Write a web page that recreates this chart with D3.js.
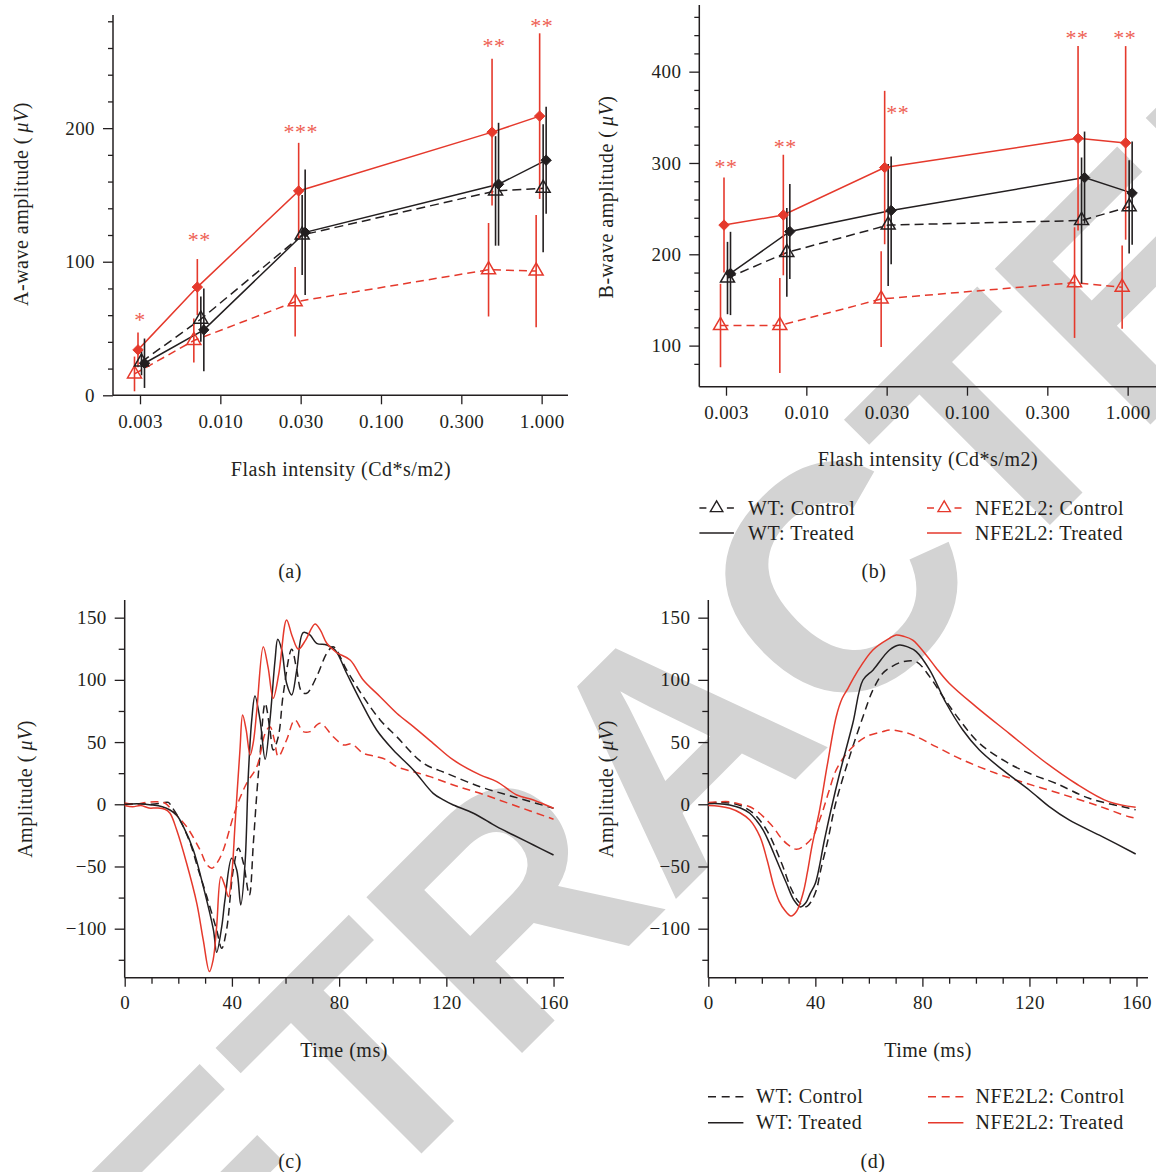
<!DOCTYPE html>
<html>
<head>
<meta charset="utf-8">
<script src="https://cdn.jsdelivr.net/npm/d3@7"></script>
<style>
  html, body { margin: 0; padding: 0; background: #fff; }
  svg { display: block; }
  text { font-family: "Liberation Serif", "Times New Roman", serif; }
</style>
</head>
<body>
<svg id="fig" width="1156" height="1172"></svg>
<script>
// ---------------- data ----------------
const intensityTicks = [0.003, 0.01, 0.03, 0.1, 0.3, 1.0];
const intensityTickLabels = ["0.003", "0.010", "0.030", "0.100", "0.300", "1.000"];
const intensities = [0.003, 0.0073, 0.03, 0.49, 1.0];
const seriesNames = ["WT: Control", "WT: Treated", "NFE2L2: Control", "NFE2L2: Treated"];

// A-wave amplitude (µV), mean and SEM per intensity
const aWtControl     = [25, 57, 120, 153, 155];
const aWtControlErr  = [10, 17, 30, 41, 48];
const aWtTreated     = [24, 49, 122, 158, 176];
const aWtTreatedErr  = [18.5, 31, 47, 46, 40];
const aNfControl     = [16, 41, 70, 94, 93];
const aNfControlErr  = [13, 16.5, 26, 35, 42];
const aNfTreated     = [34, 81, 153, 197, 209];
const aNfTreatedErr  = [13, 21, 36, 55, 62];
const aStars         = ["*", "**", "***", "**", "**"];

// B-wave amplitude (µV), mean and SEM per intensity
const bWtControl     = [174, 202, 232, 237, 252];
const bWtControlErr  = [39.6, 48.6, 66.8, 69, 51];
const bWtTreated     = [179, 225, 248, 284, 267];
const bWtTreatedErr  = [45.6, 52, 59, 50.4, 56.6];
const bNfControl     = [122, 122, 151, 169, 164];
const bNfControlErr  = [45.7, 52, 52.4, 60.6, 45.6];
const bNfTreated     = [232, 243, 295, 327, 322];
const bNfTreatedErr  = [52, 66, 84, 101, 106];
const bStars         = ["**", "**", "**", "**", "**"];

// Averaged ERG traces [time ms, amplitude µV]
const cWtControl = [[0,0],[5,0.5],[10,0],[14,1],[16.3,1.5],[17.5,-1.9],[20.6,-12.6],[24.4,-31],[27.5,-52.8],[30.6,-74],[34.3,-101],[36.2,-115.8],[38,-101],[40.5,-52.8],[42.4,-35.4],[44.3,-47.4],[46.5,-73],[48,-31.3],[49.3,8.8],[50.5,40],[52.4,81.2],[54.2,59.7],[55.4,43.6],[57.3,54.3],[59.2,89.2],[62.3,124.6],[64.2,108],[66,90.5],[67.9,89.2],[71.6,102.6],[75.4,121.4],[77.8,126.7],[82.8,108],[89,86.5],[95.3,67.8],[101.5,54.3],[111.4,33],[120.1,24.9],[132.6,14.1],[145,6.1],[160,-3.2]];
const cWtTreated = [[0,0],[5,0.5],[10,-0.5],[14,-2],[16.9,-4.6],[19.5,-9],[21.9,-18],[25.6,-36.7],[29.3,-66],[33.1,-101],[34.3,-119],[36.2,-98.4],[37.4,-76.9],[39.9,-43.4],[41.8,-52.8],[43.3,-80.9],[44.9,-47.4],[46.1,22.2],[47.4,67.8],[48.6,87],[50.5,67.8],[52.4,36.2],[54.2,67.8],[56.1,116],[57.1,132.6],[58.6,124],[60.4,97.3],[62.3,87.9],[64.2,108],[66.6,138],[69.1,136.1],[71.6,129.4],[75.4,128],[78.5,124],[82.8,105.3],[87.8,83.8],[94,59.7],[100.2,43.6],[107.7,27.6],[115.1,8.8],[118.9,3.5],[122.6,-0.6],[130.1,-7.2],[138.8,-18],[145,-24.7],[152.5,-32.7],[160,-40.8]];
const cNfControl = [[0,1],[4,0],[8,1.5],[12,2],[15,1],[18.1,-6],[23.1,-18],[28.1,-36.7],[30.5,-48],[32.5,-51.4],[34.5,-47],[36.8,-36.7],[40.5,-10],[43,5],[45.5,16.9],[49.3,30.2],[52.4,57],[54.2,62.4],[55.8,52],[57.3,38.3],[60.4,51.7],[63.5,67.8],[66.6,58.4],[69.1,58.4],[72.9,65.1],[77.8,54.3],[81.6,47.7],[84.7,48.5],[89,41],[94,38.3],[97.8,35.6],[101.5,30.2],[107.7,26.2],[113.9,22.2],[122.6,15.5],[132.6,8.8],[145,-0.6],[160,-12]];
const cNfTreated = [[0,-1],[3,-2],[6,-1],[9,-3],[12,-3],[15,-4],[16.9,-7.2],[19.4,-20.7],[23.1,-47.4],[26.9,-79.6],[29.3,-109],[31.6,-134.5],[33,-125],[34.3,-98.4],[35.9,-58.2],[37.3,-65],[38.7,-74.3],[40,-55],[41.2,-15.3],[43,43.6],[44,71.8],[45.3,60],[46.8,39.6],[48,50],[49.3,75.8],[51.7,126.7],[53.5,110],[55.4,85.2],[57.5,105],[60.4,148.2],[62.5,135],[64.8,124.6],[67.5,132],[71,145],[73,140],[75.4,129.4],[79,122],[84.1,116],[89,99.9],[95.3,86.5],[101.5,73.2],[107.7,62.4],[115.1,49],[122.6,35.6],[132.6,23.6],[138.8,18.2],[146.3,7.5],[152.5,3.5],[160,-3.2]];

const dWtControl = [[0,1],[4,1.5],[8,1],[12,-1],[16.8,-7.2],[21.8,-20.7],[27.4,-47.4],[31,-68],[34,-79],[36.6,-82.3],[38.5,-78],[40.5,-68],[42,-52.8],[44.7,-28.7],[47.5,0],[52.8,38.3],[57.8,70.4],[61.5,91.9],[65.2,105.3],[68,110],[72.7,114.6],[77.7,114.6],[82.7,102.6],[87.7,86.5],[93.9,67.8],[101.3,49],[111.2,34.2],[119.9,24.9],[129.8,16.9],[142.3,4.8],[157.2,-3.2],[159.7,-4.5]];
const dWtTreated = [[0,0.5],[4,0.5],[8,-0.6],[12,-3],[15.5,-7.2],[18,-13],[20.5,-20.7],[23,-32],[25.5,-44.8],[29.2,-63.5],[32,-77],[34.5,-82.5],[36.5,-79],[38,-72],[40,-63.5],[43.4,-28.7],[46,-3],[49.1,24.9],[54,65.1],[57.8,99.9],[61.6,108],[67.7,124],[71.4,128],[74.5,126.5],[77.7,122.7],[82.7,108],[88.9,81.2],[95.1,59.7],[101.3,43.6],[110,27.6],[119.9,11.5],[127.4,-1.9],[134.8,-12.6],[147.2,-26],[159.7,-40]];
const dNfControl = [[0,1.4],[4,2],[8,2],[12,0],[15.5,-2],[18.5,-6],[21.8,-12.6],[24.5,-19],[26.8,-26],[29.5,-32],[32.9,-36.2],[36,-33],[39.1,-26],[41,-16],[42.9,-4.6],[45,10],[47.8,27.6],[52.8,43.6],[59,54.3],[65.2,58.4],[67.7,59.7],[72,58.5],[76.4,55.7],[85.1,46.3],[95.1,35.6],[107.5,24.9],[118.7,16.9],[131.1,8.8],[144.8,-0.6],[157.2,-10],[159.7,-11]];
const dNfTreated = [[0,-1],[4,-1.5],[8,-3.2],[12,-7],[15.5,-12.6],[19.3,-26],[22,-45],[24.5,-66],[26.5,-78],[28.5,-85],[30.9,-89.8],[33,-86],[35.4,-71.5],[37,-55],[38.7,-34],[41.6,-4.6],[44.5,32],[47.8,70.4],[50,85],[52.2,93.2],[55.3,105.3],[61.5,124],[67.7,133.4],[70.2,136.1],[73,135],[76.4,132],[81.4,120],[85,110],[90,97.3],[100,78.5],[112.4,57],[124.8,35.6],[137.2,16.9],[149.6,2.1],[159.7,-2.4]];

const timeTicks = [0, 40, 80, 120, 160];
const ampTicks = [-100, -50, 0, 50, 100, 150];

// ---------------- styling ----------------
const INK = "#231f20", RED = "#e5392c", STAR = "#ee5e52", WM = "#d3d3d3";
const TICK_FS = 19, TITLE_FS = 20;
const svg = d3.select("#fig");

// retraction stamp behind the figure
svg.append("text")
  .attr("transform", "translate(752,823) rotate(-45)")
  .attr("text-anchor", "middle")
  .style("font-family", "'Liberation Sans', Arial, sans-serif")
  .style("font-weight", "bold")
  .style("font-size", "320px")
  .attr("fill", WM)
  .text("RETRACTED");

function styleAxis(sel) {
  sel.select(".domain").remove();
  sel.attr("font-family", null).attr("font-size", null);
  sel.selectAll("line").attr("stroke", INK).attr("stroke-width", 1.3);
  sel.selectAll("text").attr("fill", INK).style("font-size", TICK_FS + "px").style("letter-spacing", "0.4px");
}

function frame(g, x0, x1, y0, y1) {
  g.append("line").attr("x1", x0).attr("x2", x0).attr("y1", y0).attr("y2", y1)
    .attr("stroke", INK).attr("stroke-width", 1.5);
  g.append("line").attr("x1", x0).attr("x2", x1).attr("y1", y1).attr("y2", y1)
    .attr("stroke", INK).attr("stroke-width", 1.5);
}

function yTitle(g, x, y, label) {
  g.append("text").attr("transform", `translate(${x},${y}) rotate(-90)`)
    .attr("text-anchor", "middle").attr("fill", INK)
    .style("font-size", TITLE_FS + "px").style("letter-spacing", "0.5px")
    .call(t => {
      t.append("tspan").text(label + " (\u2009");
      t.append("tspan").style("font-style", "italic").text("\u03bcV");
      t.append("tspan").text(")");
    });
}

function plainText(g, x, y, s, size) {
  g.append("text").attr("x", x).attr("y", y).attr("text-anchor", "middle").attr("fill", INK)
    .style("font-size", (size || TITLE_FS) + "px").style("letter-spacing", "0.5px").text(s);
}

const triPath = s => { const h = s * Math.sqrt(3) / 2; return `M0,${-h * 2 / 3}L${s / 2},${h / 3}L${-s / 2},${h / 3}Z`; };
const diaPath = r => `M0,${-r}L${r},0L0,${r}L${-r},0Z`;

// ---------------- intensity–response panels ----------------
function intensityPanel(cfg) {
  const g = svg.append("g");
  const { x, y, x0, x1, top, bottom } = cfg;
  frame(g, x0, x1, top, bottom);

  const minor = d3.range(cfg.minorFrom, cfg.yMax + 1, 20).filter(v => v % 100 !== 0);
  const major = d3.range(100, cfg.yMax + 1, 100).concat(cfg.zeroTick ? [0] : []);
  g.append("g").attr("transform", `translate(${x0},0)`)
    .call(d3.axisLeft(y).tickValues(minor).tickSize(5).tickFormat("")).call(styleAxis);
  g.append("g").attr("transform", `translate(${x0},0)`)
    .call(d3.axisLeft(y).tickValues(major).tickSize(10).tickPadding(8).tickFormat(d3.format("d"))).call(styleAxis);
  g.append("g").attr("transform", `translate(0,${bottom})`)
    .call(d3.axisBottom(x).tickValues(intensityTicks).tickSize(9).tickPadding(cfg.xPad)
      .tickFormat((d, i) => intensityTickLabels[i])).call(styleAxis);

  const series = cfg.series;
  const line = s => d3.line().x((d, i) => x(intensities[i]) + s.dx).y(d => y(d));
  [0, 2, 1, 3].forEach(k => {
    const s = series[k];
    g.append("path").datum(s.mean).attr("d", line(s)).attr("fill", "none")
      .attr("stroke", s.color).attr("stroke-width", 1.5).attr("stroke-dasharray", s.dash);
  });
  [2, 3, 0, 1].forEach(k => {
    const s = series[k];
    g.selectAll(null).data(s.mean).join("line")
      .attr("x1", (d, i) => x(intensities[i]) + s.dx).attr("x2", (d, i) => x(intensities[i]) + s.dx)
      .attr("y1", (d, i) => y(d - s.err[i])).attr("y2", (d, i) => y(d + s.err[i]))
      .attr("stroke", s.color).attr("stroke-width", 1.6);
  });
  [2, 0, 1, 3].forEach(k => {
    const s = series[k];
    g.selectAll(null).data(s.mean).join("path")
      .attr("transform", (d, i) => `translate(${x(intensities[i]) + s.dx},${y(d)})`)
      .attr("d", s.marker === "tri" ? triPath(14) : diaPath(5.2))
      .attr("fill", s.marker === "tri" ? "none" : s.color)
      .attr("stroke", s.color).attr("stroke-width", s.marker === "tri" ? 1.5 : 1);
  });

  // significance marks above the treated NFE2L2 error bars
  const nf = series[3];
  g.selectAll(null).data(cfg.stars).join("text")
    .attr("x", (d, i) => x(intensities[i]) + cfg.starNudge[i][0])
    .attr("y", (d, i) => y(nf.mean[i] + nf.err[i]) - 15 + cfg.starNudge[i][1] + 11)
    .attr("text-anchor", "middle").attr("fill", STAR)
    .style("font-size", "22px").style("letter-spacing", "0.5px").text(d => d);

  return g;
}

function mkSeries(m0, e0, m1, e1, m2, e2, m3, e3) {
  return [
    { name: seriesNames[0], mean: m0, err: e0, color: INK, dash: "9,5", marker: "tri", dx: 1.5 },
    { name: seriesNames[1], mean: m1, err: e1, color: INK, dash: null, marker: "dia", dx: 4.5 },
    { name: seriesNames[2], mean: m2, err: e2, color: RED, dash: "8,5", marker: "tri", dx: -5.5 },
    { name: seriesNames[3], mean: m3, err: e3, color: RED, dash: null, marker: "dia", dx: -2 }
  ];
}

const xA = d3.scaleLog().domain(intensityTicks).range(intensityTicks.map((d, i) => 140 + i * 80.33));
const yA = d3.scaleLinear().domain([0, 284.7]).range([395.3, 15]);
intensityPanel({
  x: xA, y: yA, x0: 113, x1: 568, top: 15, bottom: 395.3, yMax: 280, minorFrom: 20, zeroTick: true, xPad: 10,
  series: mkSeries(aWtControl, aWtControlErr, aWtTreated, aWtTreatedErr, aNfControl, aNfControlErr, aNfTreated, aNfTreatedErr),
  stars: aStars, starNudge: [[0, -2], [0, -8], [0, 0], [0, -2], [0, 4]]
});

const xB = d3.scaleLog().domain(intensityTicks).range(intensityTicks.map((d, i) => 726 + i * 80.33));
const yB = d3.scaleLinear().domain([55, 473]).range([386.7, 5]);
intensityPanel({
  x: xB, y: yB, x0: 699.3, x1: 1156, top: 5, bottom: 386.7, yMax: 460, minorFrom: 80, zeroTick: false, xPad: 9.5,
  series: mkSeries(bWtControl, bWtControlErr, bWtTreated, bWtTreatedErr, bNfControl, bNfControlErr, bNfTreated, bNfTreatedErr),
  stars: bStars, starNudge: [[0, 0], [0, 3], [11, 33], [-3, 3], [-3, 3]]
});

const gAB = svg.append("g");
yTitle(gAB, 28, 204, "A-wave amplitude");
yTitle(gAB, 613, 197, "B-wave amplitude");
plainText(gAB, 341, 476, "Flash intensity (Cd*s/m2)");
plainText(gAB, 928, 466, "Flash intensity (Cd*s/m2)");
plainText(gAB, 290, 578, "(a)");
plainText(gAB, 874, 578, "(b)");

// legend for the intensity panels
(function () {
  const g = svg.append("g");
  const rows = [[0, 508], [1, 533]];
  const cols = [[699.4, 748, INK], [927, 975, RED]];
  cols.forEach((c, ci) => {
    rows.forEach(([ri, yy]) => {
      const idx = ci * 2 + ri;
      const ln = g.append("line").attr("x1", c[0]).attr("x2", c[0] + 34.5).attr("y1", yy).attr("y2", yy)
        .attr("stroke", c[2]).attr("stroke-width", 1.5);
      if (ri === 0) {
        ln.attr("stroke-dasharray", "7,20.5,7");
        g.append("path").attr("transform", `translate(${c[0] + 17.2},${yy})`).attr("d", triPath(12.5))
          .attr("fill", "none").attr("stroke", c[2]).attr("stroke-width", 1.4);
      }
      g.append("text").attr("x", c[1]).attr("y", yy + 6.5).attr("fill", INK)
        .style("font-size", TITLE_FS + "px").style("letter-spacing", "0.5px").text(seriesNames[idx]);
    });
  });
})();

// ---------------- ERG waveform panels ----------------
function wavePanel(cfg) {
  const g = svg.append("g");
  const { x, y, x0, x1, top, bottom } = cfg;
  frame(g, x0, x1, top, bottom);
  const yMinor = d3.range(-125, 151, 25).filter(v => v % 50 !== 0);
  g.append("g").attr("transform", `translate(${x0},0)`)
    .call(d3.axisLeft(y).tickValues(yMinor).tickSize(6).tickFormat("")).call(styleAxis);
  g.append("g").attr("transform", `translate(${x0},0)`)
    .call(d3.axisLeft(y).tickValues(ampTicks).tickSize(10).tickPadding(8)
      .tickFormat(d => d < 0 ? "\u2212" + Math.abs(d) : d)).call(styleAxis);
  const xMinor = d3.range(0, 161, 10).filter(v => v % 40 !== 0);
  g.append("g").attr("transform", `translate(0,${bottom})`)
    .call(d3.axisBottom(x).tickValues(xMinor).tickSize(6).tickFormat("")).call(styleAxis);
  g.append("g").attr("transform", `translate(0,${bottom})`)
    .call(d3.axisBottom(x).tickValues(timeTicks).tickSize(9).tickPadding(9).tickFormat(d3.format("d"))).call(styleAxis);

  const line = d3.line().x(d => x(d[0])).y(d => y(d[1])).curve(d3.curveCatmullRom.alpha(0.5));
  const styles = [
    { data: cfg.traces[0], color: INK, dash: "8,5" },
    { data: cfg.traces[2], color: RED, dash: "8,5" },
    { data: cfg.traces[1], color: INK, dash: null },
    { data: cfg.traces[3], color: RED, dash: null }
  ];
  styles.forEach(s => {
    g.append("path").datum(s.data).attr("d", line).attr("fill", "none")
      .attr("stroke", s.color).attr("stroke-width", 1.5).attr("stroke-dasharray", s.dash);
  });
}

const yC = d3.scaleLinear().domain([-139.4, 164.2]).range([977.7, 600]);
const xC = d3.scaleLinear().domain([0, 163.9]).range([124.7, 564]);
wavePanel({ x: xC, y: yC, x0: 124.7, x1: 564, top: 600, bottom: 977.7, traces: [cWtControl, cWtTreated, cNfControl, cNfTreated] });

const xD = d3.scaleLinear().domain([0, 164.3]).range([708.3, 1148]);
wavePanel({ x: xD, y: yC, x0: 708.3, x1: 1148, top: 600, bottom: 977.7, traces: [dWtControl, dWtTreated, dNfControl, dNfTreated] });

const gCD = svg.append("g");
yTitle(gCD, 31.5, 789, "Amplitude");
yTitle(gCD, 613, 789, "Amplitude");
plainText(gCD, 344, 1057, "Time (ms)");
plainText(gCD, 928, 1057, "Time (ms)");
plainText(gCD, 290, 1168, "(c)");
plainText(gCD, 873, 1168, "(d)");

// legend for the waveform panels
(function () {
  const g = svg.append("g");
  const rows = [[0, 1096.7], [1, 1122.7]];
  const cols = [[708, 756, INK], [928, 975.6, RED]];
  cols.forEach((c, ci) => {
    rows.forEach(([ri, yy]) => {
      const idx = ci * 2 + ri;
      g.append("line").attr("x1", c[0]).attr("x2", c[0] + 35.4).attr("y1", yy).attr("y2", yy)
        .attr("stroke", c[2]).attr("stroke-width", 1.5).attr("stroke-dasharray", ri === 0 ? "8,5.7" : null);
      g.append("text").attr("x", c[1]).attr("y", yy + 6.5).attr("fill", INK)
        .style("font-size", TITLE_FS + "px").style("letter-spacing", "0.5px").text(seriesNames[idx]);
    });
  });
})();
</script>
</body>
</html>
